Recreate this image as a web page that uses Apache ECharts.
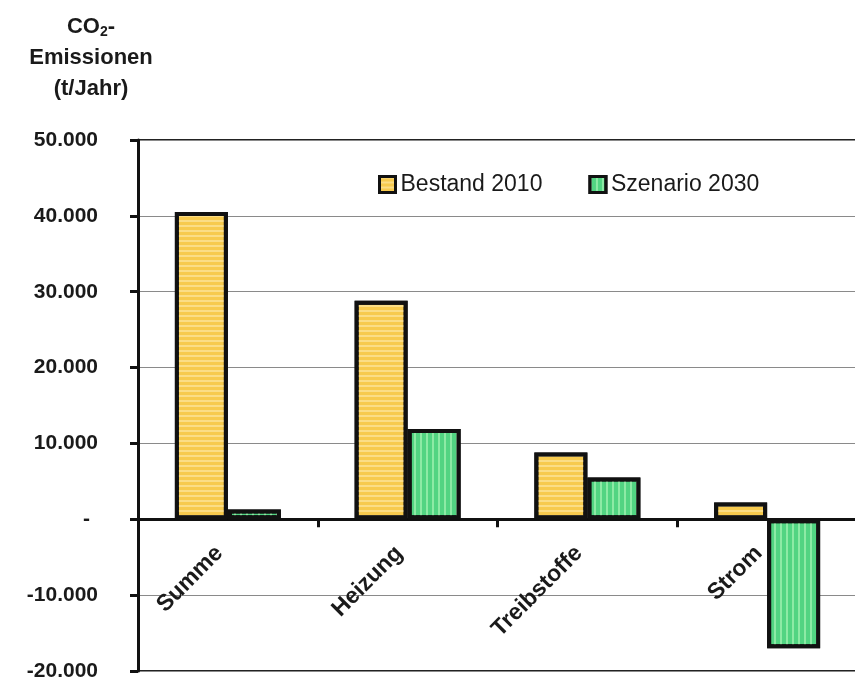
<!DOCTYPE html>
<html>
<head>
<meta charset="utf-8">
<script src="https://cdn.jsdelivr.net/npm/echarts@6/dist/echarts.min.js"></script>
<style>
  html, body { margin: 0; padding: 0; background: #fff; }
  #chart { width: 855px; height: 679px; }
</style>
</head>
<body>
<div id="chart"></div>
<script>
// Daten
var categories = ['Summe', 'Heizung', 'Treibstoffe', 'Strom'];
var bestand2010 = [40500, 28800, 8800, 2200];
var szenario2030 = [1300, 11900, 5500, -17000];
var seriesNames = ['Bestand 2010', 'Szenario 2030'];
var yMin = -20000, yMax = 50000;

var FONT = '"Liberation Sans", Arial, sans-serif';
var GRID_TOP = 140, GRID_BOTTOM = 8, CHART_H = 679;

// Tausenderpunkt wie im Original, 0 als Strich
function fmt(v) {
    if (v === 0) return '{z|-}';
    var s = String(Math.abs(v)).replace(/\B(?=(\d{3})+(?!\d))/g, '.');
    return (v < 0 ? '-' : '') + s;
}

// Abstand Nulllinie -> unterer Rand, damit die Beschriftung an der Nulllinie sitzt
var gridH = CHART_H - GRID_TOP - GRID_BOTTOM;
var zeroOffset = -gridH * (0 - yMin) / (yMax - yMin);

var myChart = echarts.init(document.getElementById('chart'));

var option = {
    backgroundColor: '#fff',
    animation: false,
    aria: {decal: {show: true}},
    title: {
        text: '{a|CO}{s|2}{a|-}\n{a|Emissionen}\n{a|(t/Jahr)}',
        left: 86,
        top: 6,
        textAlign: 'center',
        textStyle: {
            rich: {
                a: {fontFamily: FONT, fontSize: 22, fontWeight: 'bold', color: '#1a1a1a', lineHeight: 31},
                s: {fontFamily: FONT, fontSize: 14, fontWeight: 'bold', color: '#1a1a1a', verticalAlign: 'bottom', padding: [0, 0, 3, 0]}
            }
        }
    },
    legend: {
        data: seriesNames,
        left: 373,
        top: 168,
        itemWidth: 16,
        itemHeight: 16,
        itemGap: 46,
        icon: 'rect',
        itemStyle: {borderColor: '#111', borderWidth: 3},
        textStyle: {fontFamily: FONT, fontSize: 23, color: '#1a1a1a'}
    },
    grid: {
        left: 138,
        right: -2,
        top: GRID_TOP,
        bottom: GRID_BOTTOM,
        show: true,
        borderColor: '#222',
        borderWidth: 2,
        outerBoundsMode: 'none'
    },
    xAxis: [
        {
            type: 'category',
            data: categories,
            axisLine: {onZero: true, lineStyle: {color: '#111', width: 3}},
            axisTick: {show: true, length: 8, lineStyle: {color: '#111', width: 3}},
            axisLabel: {show: false}
        },
        {
            // nur Beschriftung, an die Nulllinie verschoben
            type: 'category',
            data: categories,
            position: 'bottom',
            offset: zeroOffset,
            axisLine: {show: false, onZero: false},
            axisTick: {show: false},
            axisLabel: {
                interval: 0,
                rotate: 45,
                margin: 22,
                padding: [0, 12, 0, 0],
                fontFamily: FONT,
                fontSize: 23,
                fontWeight: 'bold',
                color: '#1a1a1a'
            }
        }
    ],
    yAxis: [
        {
            type: 'value',
            min: yMin,
            max: yMax,
            interval: 10000,
            axisLine: {show: true, lineStyle: {color: '#111', width: 3}},
            axisTick: {show: true, length: 8, lineStyle: {color: '#111', width: 3}},
            axisLabel: {
                margin: 40,
                fontFamily: FONT,
                fontSize: 21,
                fontWeight: 'bold',
                color: '#1a1a1a',
                formatter: fmt,
                rich: {
                    z: {fontFamily: FONT, fontSize: 21, fontWeight: 'bold', color: '#1a1a1a', padding: [0, 8, 0, 0]}
                }
            },
            splitLine: {show: true, lineStyle: {color: '#8a8a8a', width: 1}}
        }
    ],
    series: [
        {
            name: seriesNames[0],
            type: 'bar',
            data: bestand2010,
            barWidth: 53,
            barGap: '0%',
            itemStyle: {
                color: '#F7CA4E',
                borderColor: '#111',
                borderWidth: 4,
                decal: {symbol: 'rect', symbolSize: 1, dashArrayX: [1, 0], dashArrayY: [2, 3], rotation: 0, color: 'rgba(255,240,190,0.5)'}
            }
        },
        {
            name: seriesNames[1],
            type: 'bar',
            data: szenario2030,
            barWidth: 53,
            barGap: '0%',
            itemStyle: {
                color: '#52D482',
                borderColor: '#111',
                borderWidth: 4,
                decal: {symbol: 'rect', symbolSize: 1, dashArrayX: [2, 4], dashArrayY: [1, 0], rotation: 0, color: 'rgba(200,255,200,0.5)'}
            }
        }
    ]
};

myChart.setOption(option);
</script>
</body>
</html>
